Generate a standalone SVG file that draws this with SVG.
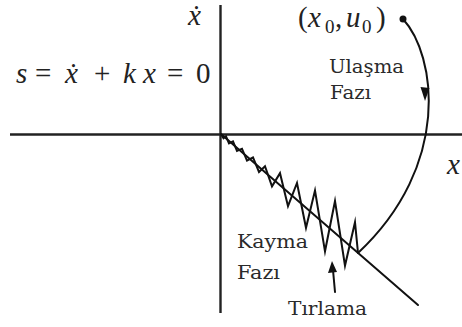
<svg xmlns="http://www.w3.org/2000/svg" width="462" height="327" viewBox="0 0 462 327">
  <defs>
    <style>
      .axis { stroke: #222; stroke-width: 2.4; fill: none; }
      .ln { stroke: #111; stroke-width: 2; fill: none; stroke-linecap: round; }
      .zz { stroke: #111; stroke-width: 2; fill: none; stroke-linejoin: miter; stroke-miterlimit: 10; }
      .math { font-family: "Liberation Serif", "DejaVu Serif", "Times New Roman", serif; font-size: 29px; fill: #222; }
      .it { font-style: italic; }
      .lbl { font-family: "DejaVu Serif", "Liberation Serif", serif; font-size: 18.5px; fill: #2a2a2a; }
      .head { fill: #111; stroke: none; }
    </style>
  </defs>
  <rect width="462" height="327" fill="#fff"/>

  <g id="axes">
    <line class="axis" x1="10" y1="134.5" x2="462" y2="134.5"/>
    <line class="axis" x1="220.5" y1="5" x2="220.5" y2="313"/>
  </g>

  <g id="connectors">
    <line class="ln" x1="221" y1="134" x2="418" y2="305"/>
    <path class="ln" d="M403,19 C436,55 452,165 358,253"/>
    <polygon class="head" points="420.5,87 429.5,88 425,101"/>
    <polyline class="zz" points="221,134 223.5,138.2 226,136.3 229,143.4 233,141.4 237,150.9 242,148.7 247,160.6 253,157.3 259,172 265,166.2 272,186.3 280,173.2 288,206.2 297,183 306,227.8 315,190.6 325,251.3 335,201 345,265.6 355,222.3 358,253"/>
    <line class="ln" x1="335" y1="292" x2="333" y2="270"/>
    <polygon class="head" points="332,261 328,273 337,272"/>
  </g>

  <g id="x-dot-axis-label">
    <text class="math it" x="188" y="25">ẋ</text>
  </g>

  <g id="sliding-surface-label">
    <text class="math" y="83"><tspan x="16" class="it">s</tspan><tspan x="35">=</tspan><tspan x="65" class="it">ẋ</tspan><tspan x="94">+</tspan><tspan x="123" class="it">k</tspan><tspan x="143" class="it">x</tspan><tspan x="167">=</tspan><tspan x="196">0</tspan></text>
  </g>

  <g id="x-axis-label">
    <text class="math it" x="447" y="174">x</text>
  </g>

  <g id="initial-point">
    <circle cx="403" cy="19" r="3.5" fill="#111"/>
    <text class="math" y="27"><tspan x="298">(</tspan><tspan x="308" class="it">x</tspan><tspan x="325" y="33" font-size="19">0</tspan><tspan x="335" y="27">,</tspan><tspan x="346" class="it">u</tspan><tspan x="362" y="33" font-size="19">0</tspan><tspan x="376" y="27">)</tspan></text>
  </g>

  <g id="reaching-phase">
    <text class="lbl" x="329" y="73" textLength="75" lengthAdjust="spacingAndGlyphs">Ulaşma</text>
    <text class="lbl" x="330" y="99" textLength="41" lengthAdjust="spacingAndGlyphs">Fazı</text>
  </g>

  <g id="sliding-phase">
    <text class="lbl" x="237" y="248" textLength="71" lengthAdjust="spacingAndGlyphs">Kayma</text>
    <text class="lbl" x="237" y="279" textLength="43" lengthAdjust="spacingAndGlyphs">Fazı</text>
  </g>

  <g id="chattering">
    <text class="lbl" x="288" y="315" textLength="79" lengthAdjust="spacingAndGlyphs">Tırlama</text>
  </g>
</svg>
